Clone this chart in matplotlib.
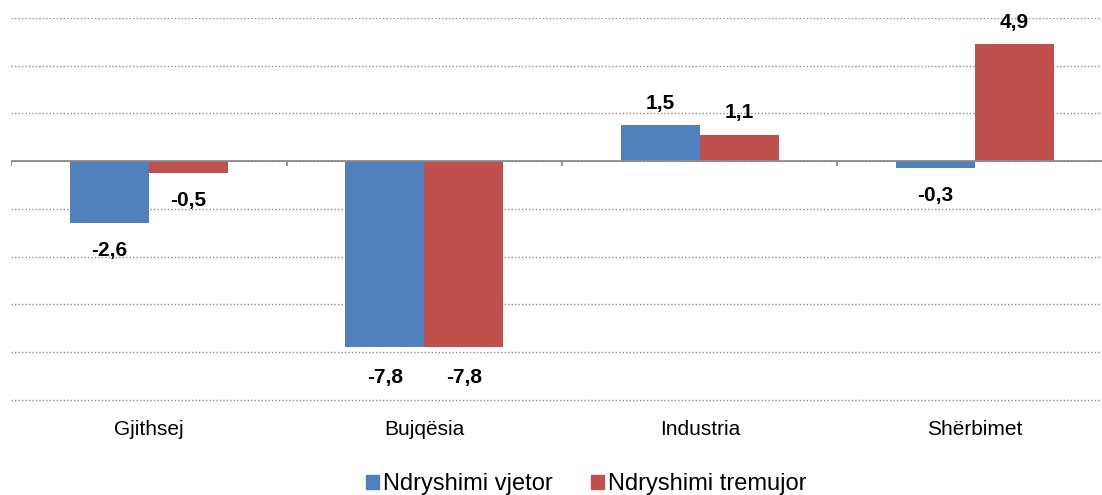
import numpy as np
import matplotlib.pyplot as plt
from matplotlib.patches import Patch

plt.rcParams['font.family'] = ['Liberation Sans', 'DejaVu Sans']

categories = ['Gjithsej', 'Bujqësia', 'Industria', 'Shërbimet']
series_names = ['Ndryshimi vjetor', 'Ndryshimi tremujor']
vjetor = [-2.6, -7.8, 1.5, -0.3]
tremujor = [-0.5, -7.8, 1.1, 4.9]
colors = ['#4F81BD', '#C0504D']

fig = plt.figure(figsize=(11.02, 4.95), dpi=100)
ax = fig.add_axes([0.0103, 0.188, 0.9995, 0.776])

x = np.arange(len(categories))
w = 0.287
for vals, off, col in [(vjetor, -w / 2, colors[0]), (tremujor, w / 2, colors[1])]:
    bars = ax.bar(x + off, vals, width=w, color=col, zorder=3)
    for b, v in zip(bars, vals):
        dy = 22 if v > 0 else -27
        if v <= -7:
            dy = -30
        ax.annotate(f"{v:.1f}".replace('.', ','),
                    (b.get_x() + b.get_width() / 2, v),
                    xytext=(0, dy), textcoords='offset pixels',
                    ha='center', va='center', fontsize=15, fontweight='bold')

ax.set_xlim(-0.5, len(categories) - 0.5)
ax.set_ylim(-10.08, 6)
ax.set_yticks(np.arange(-10, 7, 2))
ax.yaxis.grid(True, linestyle=(0, (1, 1.5)), color='#8c8c8c', linewidth=1)
ax.set_axisbelow(True)
ax.tick_params(axis='y', length=0, labelleft=False)
for s in ax.spines.values():
    s.set_visible(False)

# zero axis with boundary ticks
ax.axhline(0, color='#8c8c8c', linewidth=1.3, zorder=4)
bounds = np.arange(len(categories) + 1) - 0.5
ax.vlines(bounds, -0.22, 0, color='#8c8c8c', linewidth=1.3, zorder=4)

ax.set_xticks(x)
ax.set_xticklabels(categories, fontsize=15)
ax.tick_params(axis='x', length=0, pad=13)

handles = [Patch(color=c) for c in colors]
fig.legend(handles, series_names, loc='center', bbox_to_anchor=(0.532, 0.022),
           ncol=2, frameon=False, fontsize=17, handlelength=0.55,
           handleheight=0.55, handletextpad=0.2, columnspacing=1.6)

fig.savefig('out.png', dpi=100)
